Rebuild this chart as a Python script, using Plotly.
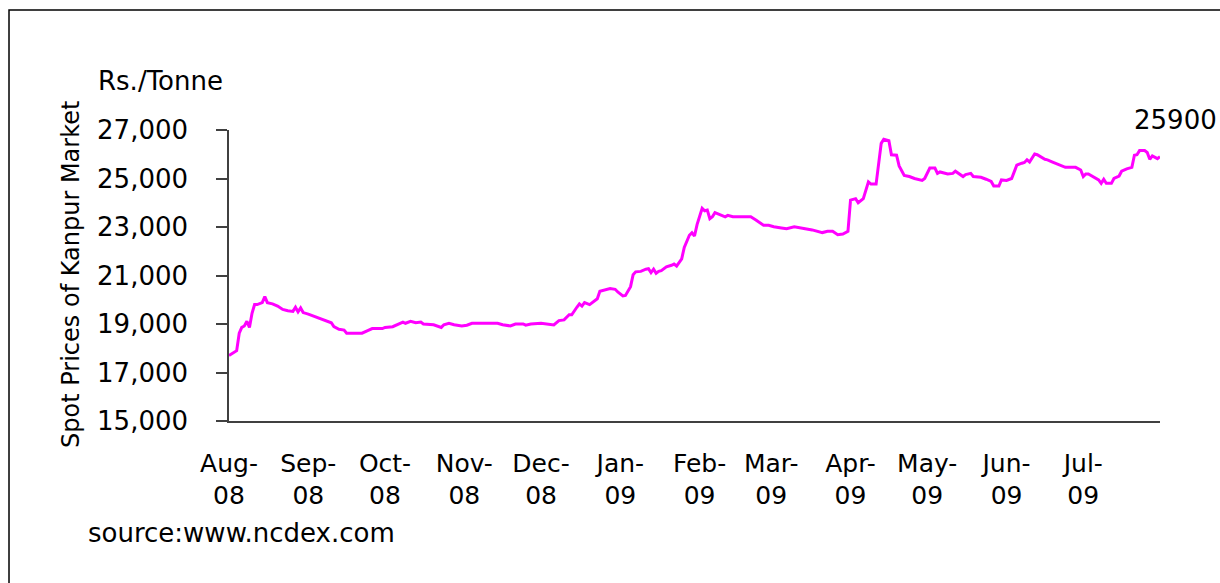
import plotly.graph_objects as go

# ---- data ----
dates = [
    "2008-08-01", "2008-08-03", "2008-08-04", "2008-08-05", "2008-08-06", "2008-08-07",
    "2008-08-08", "2008-08-09", "2008-08-10", "2008-08-11", "2008-08-12", "2008-08-14",
    "2008-08-15", "2008-08-16", "2008-08-18", "2008-08-20", "2008-08-22", "2008-08-24",
    "2008-08-26", "2008-08-27", "2008-08-28", "2008-08-29", "2008-08-30",
    "2008-09-01", "2008-09-03", "2008-09-06", "2008-09-08", "2008-09-10", "2008-09-11",
    "2008-09-13", "2008-09-15", "2008-09-16", "2008-09-19", "2008-09-22", "2008-09-24",
    "2008-09-26", "2008-09-30",
    "2008-10-01", "2008-10-04", "2008-10-06", "2008-10-08", "2008-10-09", "2008-10-11",
    "2008-10-13", "2008-10-15", "2008-10-16", "2008-10-18", "2008-10-20", "2008-10-23",
    "2008-10-24", "2008-10-26", "2008-10-28", "2008-10-31",
    "2008-11-02", "2008-11-04", "2008-11-09", "2008-11-14", "2008-11-16", "2008-11-19",
    "2008-11-21", "2008-11-24", "2008-11-25", "2008-11-27",
    "2008-12-01", "2008-12-03", "2008-12-06", "2008-12-08", "2008-12-10", "2008-12-12",
    "2008-12-13", "2008-12-15", "2008-12-16", "2008-12-17", "2008-12-18", "2008-12-20",
    "2008-12-21", "2008-12-23", "2008-12-24", "2008-12-26", "2008-12-28", "2008-12-30",
    "2008-12-31",
    "2009-01-02", "2009-01-03", "2009-01-05", "2009-01-06", "2009-01-07", "2009-01-09",
    "2009-01-11", "2009-01-12", "2009-01-13", "2009-01-14", "2009-01-15", "2009-01-16",
    "2009-01-17", "2009-01-19", "2009-01-21", "2009-01-22", "2009-01-23", "2009-01-25",
    "2009-01-26", "2009-01-28", "2009-01-29", "2009-01-30", "2009-01-31",
    "2009-02-02", "2009-02-03", "2009-02-04", "2009-02-05", "2009-02-06", "2009-02-07",
    "2009-02-09", "2009-02-11", "2009-02-12", "2009-02-14", "2009-02-17", "2009-02-21",
    "2009-02-23", "2009-02-25", "2009-02-26", "2009-02-28",
    "2009-03-02", "2009-03-05", "2009-03-07", "2009-03-10", "2009-03-13", "2009-03-17",
    "2009-03-21", "2009-03-23", "2009-03-25", "2009-03-27", "2009-03-29", "2009-03-31",
    "2009-04-01", "2009-04-03", "2009-04-04", "2009-04-06", "2009-04-08", "2009-04-09",
    "2009-04-11", "2009-04-13", "2009-04-14", "2009-04-16", "2009-04-17", "2009-04-19",
    "2009-04-20", "2009-04-22", "2009-04-24", "2009-04-26", "2009-04-29", "2009-04-30",
    "2009-05-02", "2009-05-04", "2009-05-05", "2009-05-06", "2009-05-09", "2009-05-11",
    "2009-05-12", "2009-05-15", "2009-05-16", "2009-05-18", "2009-05-19", "2009-05-22",
    "2009-05-24", "2009-05-26", "2009-05-27", "2009-05-29", "2009-05-30",
    "2009-06-01", "2009-06-03", "2009-06-05", "2009-06-07", "2009-06-08", "2009-06-09",
    "2009-06-10", "2009-06-12", "2009-06-13", "2009-06-16", "2009-06-17", "2009-06-19",
    "2009-06-21", "2009-06-24", "2009-06-28", "2009-06-30",
    "2009-07-01", "2009-07-02", "2009-07-03", "2009-07-05", "2009-07-07", "2009-07-08",
    "2009-07-09", "2009-07-10", "2009-07-12", "2009-07-13", "2009-07-15", "2009-07-16",
    "2009-07-18", "2009-07-20", "2009-07-21", "2009-07-22", "2009-07-23", "2009-07-25",
    "2009-07-26", "2009-07-27", "2009-07-28", "2009-07-30", "2009-07-31",
]

prices = [
    17700, 17820, 17900, 18620, 18860, 18920,
    19110, 18860, 19440, 19800, 19800, 19880,
    20130, 19880, 19830, 19740, 19600, 19550,
    19520, 19690, 19500, 19660, 19470,
    19410, 19330, 19220, 19110, 19050, 18890,
    18780, 18750, 18620, 18620, 18620, 18720,
    18810, 18810,
    18860, 18890, 19000, 19080, 19030, 19110,
    19050, 19080, 19000, 18970, 18970, 18860,
    18970, 19030, 18970, 18920,
    18950, 19030, 19030, 19030, 18970, 18920,
    19000, 19000, 18950, 19000,
    19030, 19000, 18960, 19140, 19170, 19380,
    19380, 19690, 19830, 19740, 19880, 19800,
    19880, 20040, 20350, 20400, 20460, 20430,
    20320,
    20160, 20180, 20540, 21030, 21150, 21170,
    21260, 21280, 21120, 21260, 21090, 21170,
    21200, 21360, 21420, 21470, 21390, 21690,
    22160, 22660, 22760, 22630, 23100,
    23770, 23670, 23700, 23340, 23420, 23590,
    23510, 23420, 23480, 23420, 23420, 23420,
    23290, 23120, 23070, 23070,
    23010, 22960, 22930, 23010, 22960, 22880,
    22770, 22820, 22820, 22680, 22710, 22820,
    24110, 24170, 24000, 24170, 24860, 24770,
    24770, 26450, 26620, 26560, 25980, 25960,
    25520, 25130, 25080, 25000, 24920, 25000,
    25430, 25430, 25210, 25270, 25190, 25210,
    25300, 25080, 25160, 25210, 25080, 25050,
    24970, 24880, 24690, 24690, 24940,
    24920, 25000, 25550, 25630, 25660, 25770,
    25680, 26010, 25980, 25790, 25770, 25680,
    25600, 25460, 25460, 25350,
    25080, 25190, 25190, 25050, 24940, 24800,
    24970, 24800, 24800, 25000, 25100, 25300,
    25400, 25460, 25960, 25980, 26150, 26150,
    26070, 25790, 25930, 25820, 25900,
]

tick_dates = ["2008-08-01", "2008-09-01", "2008-10-01", "2008-11-01", "2008-12-01",
              "2009-01-01", "2009-02-01", "2009-03-01", "2009-04-01", "2009-05-01",
              "2009-06-01", "2009-07-01"]
tick_months = ["Aug-", "Sep-", "Oct-", "Nov-", "Dec-", "Jan-", "Feb-", "Mar-",
               "Apr-", "May-", "Jun-", "Jul-"]
tick_years = ["08", "08", "08", "08", "08", "09", "09", "09", "09", "09", "09", "09"]

y_ticks = [15000, 17000, 19000, 21000, 23000, 25000, 27000]

FONT = "DejaVu Sans, Liberation Sans, Arial, sans-serif"
FS = 26
AXIS_COLOR = "#404040"

tick_text = [f"{m}<br>{y}" for m, y in zip(tick_months, tick_years)]

fig = go.Figure()
fig.add_trace(go.Scatter(
    x=dates, y=prices, mode="lines",
    line=dict(color="#FF00FF", width=3),
    showlegend=False, hoverinfo="x+y",
))

annotations = []

# data label on the last point
annotations.append(dict(
    x=dates[-1], y=prices[-1], xref="x", yref="y", text=str(prices[-1]),
    showarrow=False, xanchor="left", yanchor="middle", xshift=-28, yshift=37,
    font=dict(family=FONT, size=FS, color="black"),
))

# units label
annotations.append(dict(
    x=-0.1429, y=1.168, xref="paper", yref="paper", text="Rs./Tonne",
    showarrow=False, xanchor="left", yanchor="middle",
    font=dict(family=FONT, size=FS, color="black"),
))

# y axis title
annotations.append(dict(
    x=-0.1697, y=0.502, xref="paper", yref="paper",
    text="Spot Prices of Kanpur Market", textangle=-90,
    showarrow=False, xanchor="center", yanchor="middle",
    font=dict(family=FONT, size=24, color="black"),
))

# source note
annotations.append(dict(
    x=-0.1536, y=-0.385, xref="paper", yref="paper", text="source:www.ncdex.com",
    showarrow=False, xanchor="left", yanchor="middle",
    font=dict(family=FONT, size=FS, color="black"),
))

fig.update_layout(
    width=1220, height=583,
    margin=dict(l=229, r=60, t=130, b=162),
    paper_bgcolor="white", plot_bgcolor="white",
    font=dict(family=FONT, size=FS, color="black"),
    annotations=annotations,
    shapes=[dict(
        type="rect", xref="paper", yref="paper",
        x0=-0.2363, x1=1.0752, y0=-0.615, y1=1.4124,
        line=dict(color="black", width=1.5), fillcolor="rgba(0,0,0,0)", layer="below",
    )],
)

fig.update_xaxes(
    type="date",
    range=[dates[0], dates[-1]],
    tickmode="array", tickvals=tick_dates, ticktext=tick_text,
    ticks="", showgrid=False, zeroline=False,
    showline=True, linecolor=AXIS_COLOR, linewidth=1.5,
    ticklabelstandoff=19,
    tickfont=dict(family=FONT, size=25, color="black"),
)
fig.update_yaxes(
    range=[15000, 27000],
    tickmode="array", tickvals=y_ticks, tickformat=",",
    ticks="outside", ticklen=11, tickwidth=1.5, tickcolor=AXIS_COLOR,
    showgrid=False, zeroline=False,
    showline=True, linecolor=AXIS_COLOR, linewidth=1.5,
    ticklabelstandoff=23,
    tickfont=dict(family=FONT, size=FS, color="black"),
)

fig.write_html(
    "out.html",
    config={"displayModeBar": False},
    post_script="document.body.style.margin='0px';document.body.style.overflow='hidden';",
)
